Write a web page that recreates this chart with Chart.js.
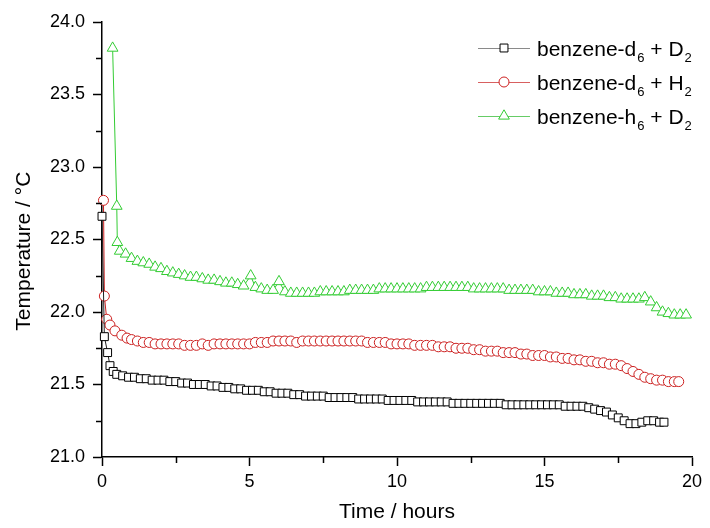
<!DOCTYPE html>
<html lang="en">
<head>
  <meta charset="UTF-8">
  <title>Temperature vs time</title>
  <script src="https://cdn.jsdelivr.net/npm/chart.js@4"></script>
  <style>
    body { margin: 0; background: #fff; }
    canvas { display: block; }
  </style>
</head>
<body>
<canvas id="myChart" width="710" height="528"></canvas>
<script>
  // benzene-d6 + D2
  const blackTime = [0, 0.08, 0.19, 0.27, 0.38, 0.5, 0.7, 0.9, 1.1, 1.3, 1.5, 1.7, 1.9, 2.1, 2.3, 2.5, 2.7, 2.9,
    3.1, 3.3, 3.5, 3.7, 3.9, 4.1, 4.3, 4.5, 4.7, 4.9, 5.1, 5.3, 5.5, 5.7, 5.9, 6.1, 6.3, 6.5, 6.7, 6.9,
    7.1, 7.3, 7.5, 7.7, 7.9, 8.1, 8.3, 8.5, 8.7, 8.9, 9.1, 9.3, 9.5, 9.7, 9.9, 10.1, 10.3, 10.5, 10.7, 10.9,
    11.1, 11.3, 11.5, 11.7, 11.9, 12.1, 12.3, 12.5, 12.7, 12.9, 13.1, 13.3, 13.5, 13.7, 13.9, 14.1, 14.3, 14.5,
    14.7, 14.9, 15.1, 15.3, 15.5, 15.7, 15.9, 16.1, 16.3, 16.5, 16.7, 16.9, 17.1, 17.3, 17.5, 17.7, 17.9,
    18.1, 18.3, 18.5, 18.7, 18.9, 19.05];
  const blackTemp = [22.66, 21.83, 21.72, 21.63, 21.59, 21.57, 21.56, 21.55, 21.55, 21.54, 21.54, 21.53, 21.53, 21.53, 21.52, 21.52, 21.51, 21.51,
    21.50, 21.50, 21.50, 21.49, 21.49, 21.48, 21.48, 21.47, 21.47, 21.46, 21.46, 21.46, 21.45, 21.45, 21.44, 21.44, 21.44, 21.43, 21.43, 21.42,
    21.42, 21.42, 21.42, 21.41, 21.41, 21.41, 21.41, 21.41, 21.40, 21.40, 21.40, 21.40, 21.40, 21.39, 21.39, 21.39, 21.39, 21.39, 21.38, 21.38,
    21.38, 21.38, 21.38, 21.38, 21.37, 21.37, 21.37, 21.37, 21.37, 21.37, 21.37, 21.37, 21.37, 21.36, 21.36, 21.36, 21.36, 21.36,
    21.36, 21.36, 21.36, 21.36, 21.36, 21.35, 21.35, 21.35, 21.35, 21.34, 21.33, 21.32, 21.31, 21.29, 21.27, 21.25, 21.23,
    21.23, 21.24, 21.25, 21.25, 21.24, 21.24];

  // benzene-d6 + H2
  const redTime = [0.05, 0.08, 0.16, 0.27, 0.44, 0.67, 0.85, 1.0, 1.2, 1.4, 1.6, 1.8, 2.0, 2.2, 2.4, 2.6, 2.8,
    3.0, 3.2, 3.4, 3.6, 3.8, 4.0, 4.2, 4.4, 4.6, 4.8, 5.0, 5.2, 5.4, 5.6, 5.8, 6.0, 6.2, 6.4, 6.6, 6.8,
    7.0, 7.2, 7.4, 7.6, 7.8, 8.0, 8.2, 8.4, 8.6, 8.8, 9.0, 9.2, 9.4, 9.6, 9.8, 10.0, 10.2, 10.4, 10.6, 10.8,
    11.0, 11.2, 11.4, 11.6, 11.8, 12.0, 12.2, 12.4, 12.6, 12.8, 13.0, 13.2, 13.4, 13.6, 13.8, 14.0, 14.2, 14.4,
    14.6, 14.8, 15.0, 15.2, 15.4, 15.6, 15.8, 16.0, 16.2, 16.4, 16.6, 16.8, 17.0, 17.2, 17.4, 17.6, 17.8,
    18.0, 18.2, 18.4, 18.6, 18.8, 19.0, 19.2, 19.4, 19.55];
  const redTemp = [22.77, 22.11, 21.95, 21.91, 21.87, 21.84, 21.82, 21.81, 21.80, 21.79, 21.79, 21.78, 21.78, 21.78, 21.78, 21.78, 21.77,
    21.77, 21.77, 21.78, 21.77, 21.78, 21.78, 21.78, 21.78, 21.78, 21.78, 21.78, 21.79, 21.79, 21.79, 21.80, 21.80, 21.80, 21.80, 21.79, 21.80,
    21.80, 21.80, 21.80, 21.80, 21.80, 21.80, 21.80, 21.80, 21.80, 21.80, 21.79, 21.79, 21.79, 21.79, 21.78, 21.78, 21.78, 21.78, 21.77, 21.77,
    21.77, 21.77, 21.76, 21.76, 21.76, 21.75, 21.75, 21.75, 21.74, 21.74, 21.73, 21.73, 21.73, 21.72, 21.72, 21.72, 21.71, 21.71,
    21.70, 21.70, 21.70, 21.69, 21.69, 21.68, 21.68, 21.67, 21.67, 21.66, 21.66, 21.65, 21.65, 21.64, 21.64, 21.63, 21.61,
    21.59, 21.57, 21.55, 21.54, 21.53, 21.53, 21.52, 21.52, 21.52];

  // benzene-h6 + D2
  const greenTime = [0.36, 0.5, 0.52, 0.6, 0.8, 1.0, 1.2, 1.4, 1.6, 1.8, 2.0, 2.2, 2.4, 2.6, 2.8,
    3.0, 3.2, 3.4, 3.6, 3.8, 4.0, 4.2, 4.4, 4.6, 4.8, 5.04, 5.2, 5.4, 5.6, 5.8, 6.0, 6.2, 6.4, 6.6, 6.8,
    7.0, 7.2, 7.4, 7.6, 7.8, 8.0, 8.2, 8.4, 8.6, 8.8, 9.0, 9.2, 9.4, 9.6, 9.8, 10.0, 10.2, 10.4, 10.6, 10.8,
    11.0, 11.2, 11.4, 11.6, 11.8, 12.0, 12.2, 12.4, 12.6, 12.8, 13.0, 13.2, 13.4, 13.6, 13.8, 14.0, 14.2, 14.4,
    14.6, 14.8, 15.0, 15.2, 15.4, 15.6, 15.8, 16.0, 16.2, 16.4, 16.6, 16.8, 17.0, 17.2, 17.4, 17.6, 17.8,
    18.0, 18.2, 18.4, 18.6, 18.8, 19.0, 19.2, 19.4, 19.6, 19.8];
  const greenTemp = [23.82, 22.73, 22.48, 22.42, 22.40, 22.37, 22.35, 22.34, 22.33, 22.31, 22.30, 22.28, 22.27, 22.26, 22.25,
    22.24, 22.24, 22.23, 22.22, 22.22, 22.21, 22.20, 22.20, 22.19, 22.18, 22.25, 22.17, 22.16, 22.15, 22.15, 22.21, 22.14, 22.13, 22.13, 22.13,
    22.13, 22.13, 22.14, 22.14, 22.14, 22.14, 22.14, 22.15, 22.15, 22.15, 22.15, 22.15, 22.16, 22.16, 22.16, 22.16, 22.16, 22.16, 22.16, 22.16,
    22.17, 22.17, 22.17, 22.17, 22.17, 22.17, 22.17, 22.17, 22.16, 22.16, 22.16, 22.16, 22.16, 22.16, 22.15, 22.15, 22.15, 22.15,
    22.15, 22.14, 22.14, 22.14, 22.13, 22.13, 22.13, 22.12, 22.12, 22.12, 22.11, 22.11, 22.11, 22.10, 22.10, 22.09, 22.09,
    22.09, 22.09, 22.10, 22.07, 22.03, 22.00, 21.99, 21.98, 21.98, 21.98];

  // legend labels: [main text, subscript, middle text, subscript]
  const legendLabels = [
    ['benzene-d', '6', ' + D', '2'],
    ['benzene-d', '6', ' + H', '2'],
    ['benzene-h', '6', ' + D', '2']
  ];

  const FONT = "'Liberation Sans', Arial, sans-serif";

  function toPoints(xs, ys) {
    return xs.map((x, i) => ({ x: x, y: ys[i] }));
  }

  // petits traits de graduation intermédiaires
  const minorTicks = {
    id: 'minorTicks',
    afterDraw(chart) {
      const { ctx, scales: { x, y } } = chart;
      ctx.save();
      ctx.strokeStyle = '#000';
      ctx.lineWidth = 1.5;
      ctx.beginPath();
      for (let v = 2.5; v < 20; v += 5) {
        const px = Math.round(x.getPixelForValue(v)) + 0.5;
        ctx.moveTo(px, x.top);
        ctx.lineTo(px, x.top + 6);
      }
      for (let v = 21.25; v < 24; v += 0.5) {
        const py = Math.round(y.getPixelForValue(v)) + 0.5;
        ctx.moveTo(y.right - 6, py);
        ctx.lineTo(y.right, py);
      }
      ctx.stroke();
      ctx.restore();
    }
  };

  // legende avec indices
  const subLegend = {
    id: 'subLegend',
    afterDraw(chart) {
      const ctx = chart.ctx;
      const rows = [48, 82, 116];
      ctx.save();
      chart.data.datasets.forEach((ds, i) => {
        const y = rows[i];
        ctx.strokeStyle = ds.legendLine;
        ctx.lineWidth = 1;
        ctx.beginPath();
        ctx.moveTo(478, y + 0.5);
        ctx.lineTo(530, y + 0.5);
        ctx.stroke();
        ctx.fillStyle = '#fff';
        ctx.strokeStyle = ds.pointBorderColor;
        ctx.lineWidth = 1;
        Chart.helpers.drawPoint(ctx, {
          pointStyle: ds.pointStyle, radius: ds.pointRadius, rotation: 0, borderWidth: 1
        }, 504, y);

        const parts = legendLabels[i];
        let tx = 537;
        const base = y + 8;
        ctx.fillStyle = '#000';
        ctx.textBaseline = 'alphabetic';
        ctx.textAlign = 'left';
        parts.forEach((p, k) => {
          if (k % 2 === 0) {
            ctx.font = '21px ' + FONT;
            ctx.fillText(p, tx, base);
          } else {
            ctx.font = '13px ' + FONT;
            ctx.fillText(p, tx + 1, base + 6);
          }
          tx += ctx.measureText(p).width + (k % 2 ? 1 : 0);
        });
      });
      ctx.restore();
    }
  };

  const ctx = document.getElementById('myChart').getContext('2d');
  const myChart = new Chart(ctx, {
    type: 'line',
    data: {
      datasets: [{
        label: 'benzene-d6 + D2',
        data: toPoints(blackTime, blackTemp),
        borderColor: '#222',
        legendLine: '#8a8a8a',
        borderWidth: 1,
        pointStyle: 'rect',
        pointRadius: 5.6,
        pointBorderColor: '#000',
        pointBackgroundColor: '#fff',
        pointBorderWidth: 1,
        tension: 0
      }, {
        label: 'benzene-d6 + H2',
        data: toPoints(redTime, redTemp),
        borderColor: '#cc2020',
        legendLine: '#d86060',
        borderWidth: 1,
        pointStyle: 'circle',
        pointRadius: 5,
        pointBorderColor: '#cc2020',
        pointBackgroundColor: '#fff',
        pointBorderWidth: 1,
        tension: 0
      }, {
        label: 'benzene-h6 + D2',
        data: toPoints(greenTime, greenTemp),
        borderColor: '#33cc33',
        legendLine: '#66cc66',
        borderWidth: 1,
        pointStyle: 'triangle',
        pointRadius: 6.2,
        pointBorderColor: '#33cc33',
        pointBackgroundColor: '#fff',
        pointBorderWidth: 1,
        tension: 0
      }]
    },
    options: {
      responsive: false,
      animation: false,
      clip: false,
      layout: { padding: { top: 22, right: 18, left: 0, bottom: 0 } },
      plugins: {
        legend: { display: false },
        tooltip: { enabled: false }
      },
      scales: {
        x: {
          type: 'linear',
          min: 0,
          max: 20,
          afterFit: s => { s.height = 71; },
          border: { color: '#000', width: 1.5 },
          grid: { drawOnChartArea: false, tickLength: 9, tickColor: '#000', tickWidth: 1.5 },
          ticks: {
            stepSize: 5,
            padding: 5,
            color: '#000',
            font: { family: FONT, size: 18 },
            maxRotation: 0
          },
          title: {
            display: true,
            text: 'Time / hours',
            color: '#000',
            font: { family: FONT, size: 21 },
            padding: { top: 0, bottom: 3 }
          }
        },
        y: {
          min: 21,
          max: 24,
          afterFit: s => { s.width = 102; },
          border: { color: '#000', width: 1.5 },
          grid: { drawOnChartArea: false, tickLength: 9, tickColor: '#000', tickWidth: 1.5 },
          ticks: {
            stepSize: 0.5,
            padding: 8,
            color: '#000',
            font: { family: FONT, size: 18 },
            callback: v => v.toFixed(1)
          },
          title: {
            display: true,
            // espaces insécables en fin : décale le titre vers le bas comme l'original
            text: 'Temperature / °C\u00a0\u00a0\u00a0\u00a0',
            color: '#000',
            font: { family: FONT, size: 21 },
            padding: { top: 12, bottom: 0 }
          }
        }
      }
    },
    plugins: [minorTicks, subLegend]
  });
</script>
</body>
</html>
